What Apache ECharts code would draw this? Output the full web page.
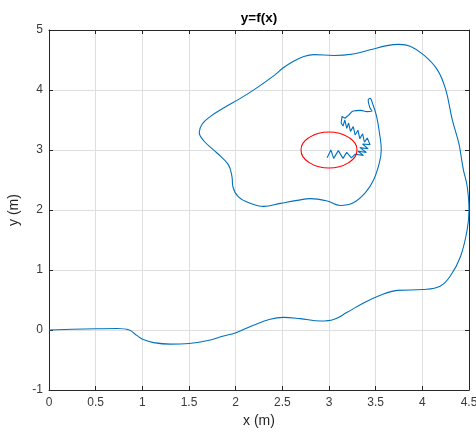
<!DOCTYPE html>
<html>
<head>
<meta charset="utf-8">
<script src="https://cdn.jsdelivr.net/npm/echarts@6/dist/echarts.min.js"></script>
<style>
html,body{margin:0;padding:0;background:#fff;}
#chart{width:476px;height:439px;}
</style>
</head>
<body>
<div id="chart"></div>
<script>
// Outer smooth spiral path (x, y in metres)
var spiralOuter = [
  [0.00,0.00],[0.25,0.012],[0.51,0.02],[0.73,0.025],[0.86,0.00],[0.94,-0.09],[1.01,-0.16],
  [1.12,-0.21],[1.30,-0.235],[1.50,-0.225],[1.69,-0.18],[1.87,-0.10],[2.01,-0.04],
  [2.19,0.08],[2.37,0.18],[2.51,0.21],[2.69,0.19],[2.91,0.15],[3.05,0.175],[3.19,0.29],
  [3.37,0.45],[3.55,0.58],[3.73,0.66],[4.01,0.675],[4.19,0.73],[4.30,0.90],[4.41,1.23],
  [4.48,1.67],[4.50,2.01],[4.48,2.40],[4.44,2.67],[4.41,2.95],[4.39,3.12],[4.32,3.51],
  [4.25,4.01],[4.16,4.34],[4.01,4.59],[3.87,4.73],[3.75,4.76],[3.62,4.74],[3.44,4.67],
  [3.26,4.60],[3.05,4.575],[2.84,4.59],[2.73,4.56],[2.62,4.48],[2.51,4.37],[2.41,4.24],
  [2.23,4.04],[2.05,3.86],[1.87,3.70],[1.73,3.56],[1.64,3.43],[1.61,3.29],[1.66,3.15],
  [1.80,2.95],[1.92,2.76],[1.96,2.56],[1.97,2.39],[2.03,2.22],[2.16,2.11],[2.30,2.06],
  [2.48,2.11],[2.66,2.16],[2.80,2.19],[2.98,2.15],[3.12,2.075],[3.26,2.12],[3.39,2.29],
  [3.48,2.51],[3.54,2.79],[3.56,3.01],[3.54,3.29],[3.51,3.56],[3.47,3.76],[3.44,3.86],
  [3.42,3.83],[3.44,3.70],[3.46,3.65],[3.41,3.64],[3.34,3.66],[3.26,3.65],[3.21,3.58],
  [3.17,3.53]
];
// Inner zig-zag part of the path
var spiralInner = [
  [3.17,3.53],[3.14,3.56],[3.13,3.45],[3.15,3.40],[3.17,3.50],[3.19,3.36],[3.21,3.45],
  [3.23,3.31],[3.26,3.39],[3.28,3.25],[3.31,3.33],[3.33,3.19],[3.36,3.27],[3.38,3.13],
  [3.41,3.20],[3.44,3.09],[3.36,3.10],[3.42,3.02],[3.33,3.04],[3.40,2.96],[3.31,2.98],
  [3.37,2.91],[3.28,2.93],[3.24,2.87],[3.19,2.96],[3.15,2.86],[3.10,2.99],[3.05,2.86],
  [3.02,3.00],[2.98,2.87]
];
// Red target circle points (centre 3,3 radius ~0.3)
var targetCircle = [
  [3.30,3.00],[3.28,3.11],[3.21,3.21],[3.11,3.28],[3.00,3.30],[2.89,3.28],[2.79,3.21],
  [2.72,3.11],[2.70,3.00],[2.72,2.89],[2.79,2.79],[2.89,2.72],[3.00,2.70],[3.11,2.72],
  [3.21,2.79],[3.28,2.89],[3.30,3.00]
];
var xRange = {min:0, max:4.5, interval:0.5};
var yRange = {min:-1, max:5, interval:1};

var font = '"Liberation Sans", Arial, Helvetica, sans-serif';
var axisCol = '#262626';
var chart = echarts.init(document.getElementById('chart'), null, {renderer:'canvas'});
function mainAxis(r, name, isY){
  return {
    type:'value', min:r.min, max:r.max, interval:r.interval,
    name:name, nameLocation:'middle', nameGap: isY ? 22 : 19,
    nameTextStyle:{color:axisCol, fontFamily:font, fontSize:14},
    axisLine:{show:true, onZero:false, lineStyle:{color:axisCol, width:1}},
    axisTick:{show:true, inside:true, length:4, lineStyle:{color:axisCol}},
    axisLabel:{color:'#3a3a3a', fontFamily:font, fontSize:12, margin: isY ? 6 : 7,
      hideOverlap:false,
      formatter:function(v){return String(Math.round(v*10)/10);}},
    splitLine:{show:true, lineStyle:{color:'#dfdfdf', width:1}}
  };
}
function sideAxis(r, pos){
  return {
    type:'value', min:r.min, max:r.max, interval:r.interval, position:pos,
    axisLine:{show:true, onZero:false, lineStyle:{color:axisCol, width:1}},
    axisTick:{show:true, inside:true, length:4, lineStyle:{color:axisCol}},
    axisLabel:{show:false}, splitLine:{show:false}
  };
}
chart.setOption({
  animation:false,
  backgroundColor:'#fff',
  title:{text:'y=f(x)', left:259, top:11, textAlign:'center', padding:0,
    textStyle:{fontFamily:font, fontSize:13.5, fontWeight:'bold', color:'#000'}},
  grid:{left:49, top:30, width:420, height:360, containLabel:false, outerBoundsMode:'none'},
  xAxis:[mainAxis(xRange,'x (m)',false), sideAxis(xRange,'top')],
  yAxis:[mainAxis(yRange,'y (m)',true), sideAxis(yRange,'right')],
  series:[
    {type:'line', data:spiralOuter, xAxisIndex:0, yAxisIndex:0, showSymbol:false,
      smooth:0.4, lineStyle:{color:'#0072BD', width:1.1}, clip:true},
    {type:'line', data:spiralInner, xAxisIndex:0, yAxisIndex:0, showSymbol:false,
      smooth:false, lineStyle:{color:'#0072BD', width:1.1}, clip:true},
    {type:'line', data:targetCircle, xAxisIndex:0, yAxisIndex:0, showSymbol:false,
      smooth:0.5, lineStyle:{color:'#FF0000', width:1.1}, clip:true}
  ]
});
</script>
</body>
</html>
